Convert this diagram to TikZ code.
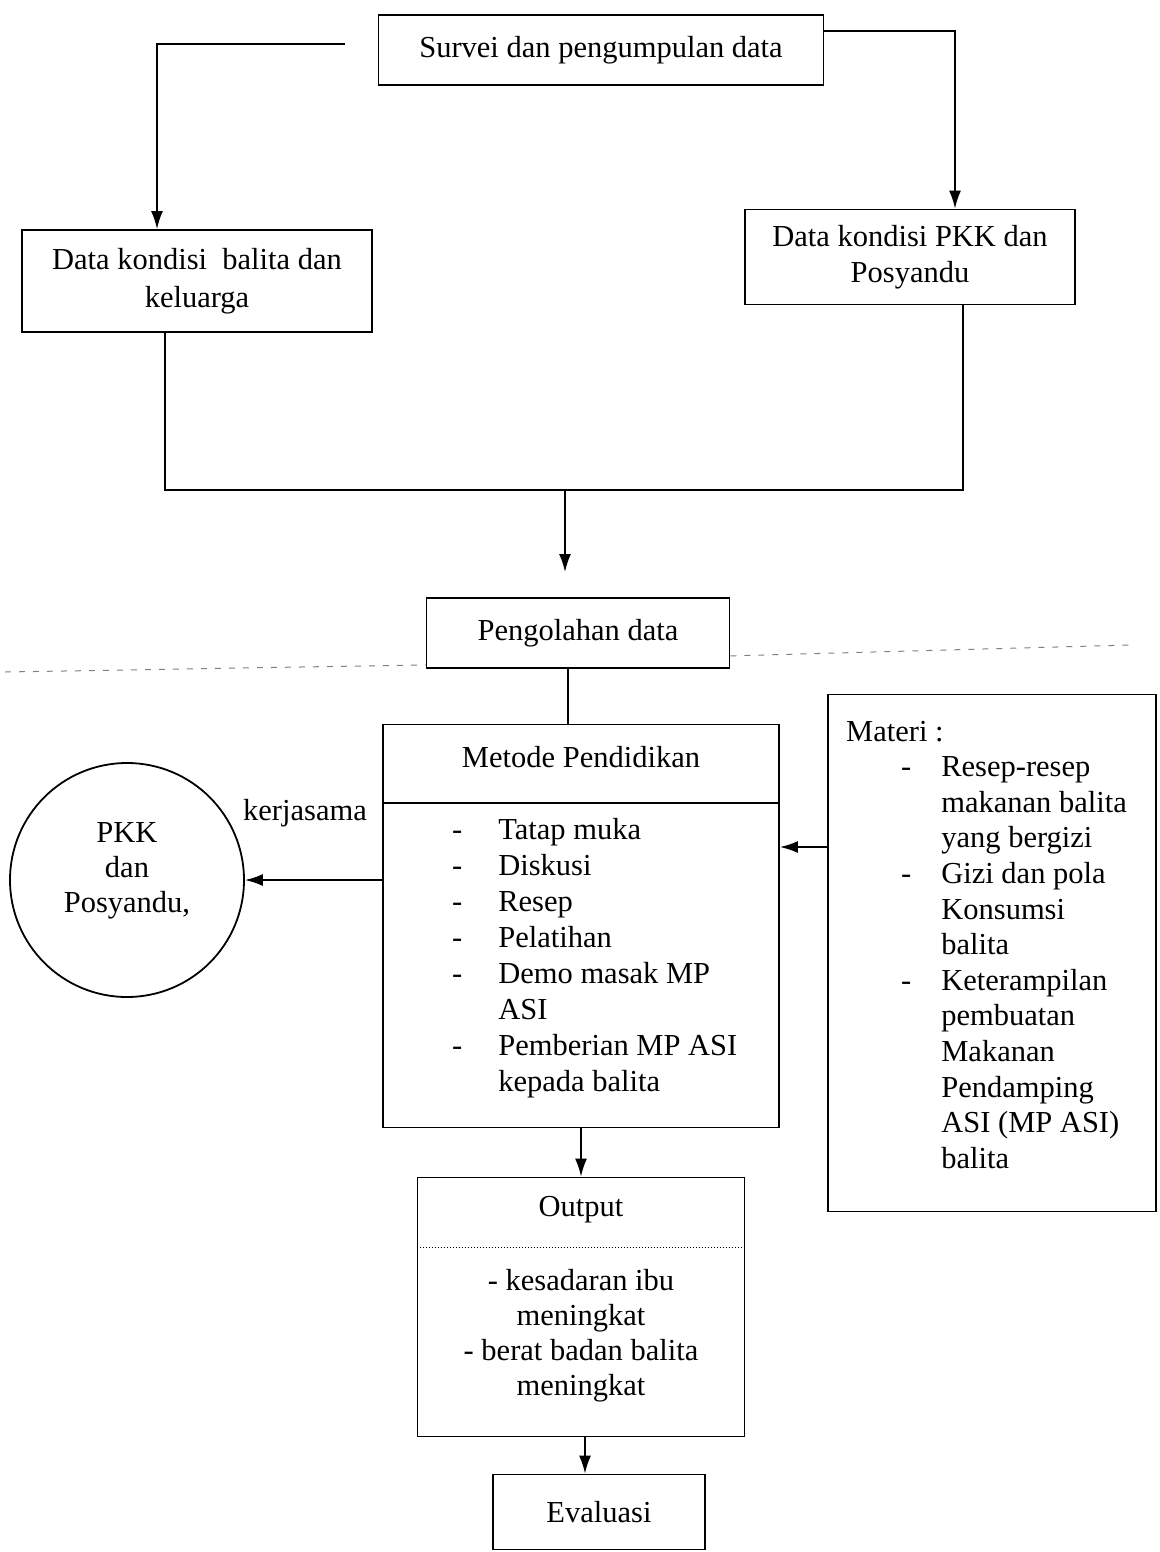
\documentclass[tikz,border=0pt]{standalone}
\usepackage{fontspec}
\setmainfont{Liberation Serif}
\usetikzlibrary{arrows.meta}
\begin{document}
\begin{tikzpicture}[x=1pt,y=-1pt,
  box/.style={draw, line width=1.8pt, align=center, inner sep=0pt, font=\fontsize{30.5}{36}\selectfont},
  txt/.style={inner sep=0pt, font=\fontsize{30.5}{36}\selectfont},
  arr/.style={line width=1.8pt, -{Latex[length=18pt,width=12pt]}},
  ln/.style={line width=1.8pt},
  sep/.style={gray, dash pattern=on 6pt off 8pt, line width=1pt}]
\useasboundingbox (0,0) rectangle (1159,1552);

% top part
\node[box, minimum width=445pt, minimum height=70pt] (survei) at (601,50) {Survei dan pengumpulan data};
\node[box, minimum width=350pt, minimum height=102pt, font=\fontsize{30.5}{38}\selectfont] (balita) at (197,281) {Data kondisi\ \ balita dan\\keluarga};
\node[box, minimum width=330pt, minimum height=95pt] (pkkdata) at (910,257) {Data kondisi PKK dan\\Posyandu};

\coordinate (sL) at (345,44);
\draw[arr] (sL) -| ([xshift=-40pt]balita.north);
\draw[arr] ([yshift=19pt]survei.east) -| ([xshift=45pt]pkkdata.north);

\coordinate (jM) at (565,490);
\draw[ln] ([xshift=-32pt]balita.south) |- (jM) -| ([xshift=53pt]pkkdata.south);

\node[box, minimum width=303pt, minimum height=70pt] (peng) at (578,633) {Pengolahan data};
\coordinate (pengIn) at (565,572);
\draw[arr] (jM) -- (pengIn);

\coordinate (dL) at (5,672);
\coordinate (dR) at (1130,645);
\draw[sep] (dL) -- ([yshift=4pt]peng.south west);
\draw[sep] ([yshift=13pt]peng.south east) -- (dR);

% Metode
\node[box, minimum width=396pt, minimum height=403pt] (metode) at (581,926) {};
\node[txt] (metodeH) at (581,757) {Metode Pendidikan};
\draw[ln] (metode.west |- 0,803) -- (metode.east |- 0,803);
\coordinate (pm) at ([xshift=-10pt]peng.south);
\draw[ln] (pm) -- (pm |- metode.north);
\node[txt, anchor=west] (metodeL) at (452,958) {\begin{tabular}{@{}l@{\hspace{36pt}}l@{}}
- & Tatap muka\\
- & Diskusi\\
- & Resep\\
- & Pelatihan\\
- & Demo masak MP\\
  & ASI\\
- & Pemberian MP ASI\\
  & kepada balita
\end{tabular}};

% PKK circle
\node[draw, circle, line width=1.8pt, minimum size=234pt, inner sep=0pt] (pkk) at (127,880) {};
\node[txt, align=center, font=\fontsize{30.5}{35}\selectfont] (pkkT) at (127,871) {PKK\\dan\\Posyandu,};
\draw[arr] (metode.west |- pkk.east) -- (pkk.east);
\node[txt] (kerja) at (305,813) {kerjasama};

% Materi
\node[box, minimum width=328pt, minimum height=517pt] (materi) at (992,953) {};
\node[txt, anchor=north west, font=\fontsize{30.5}{35.6}\selectfont] (materiT) at (846,716) {\begin{tabular}{@{}l@{\hspace{30pt}}l@{}}
\multicolumn{2}{@{}l@{}}{Materi :}\\
\hspace{55pt}- & Resep-resep\\
 & makanan balita\\
 & yang bergizi\\
\hspace{55pt}- & Gizi dan pola\\
 & Konsumsi\\
 & balita\\
\hspace{55pt}- & Keterampilan\\
 & pembuatan\\
 & Makanan\\
 & Pendamping\\
 & ASI (MP ASI)\\
 & balita
\end{tabular}};
\coordinate (ma) at (materi.west |- 0,847);
\draw[arr] (ma) -- (metode.east |- ma);

% Output
\node[box, minimum width=327pt, minimum height=259pt] (output) at (581,1307) {};
\node[txt] (outH) at (581,1210) {Output};
\draw[dotted, line width=1pt] (output.west |- 0,1247) -- (output.east |- 0,1247);
\node[txt, align=center, font=\fontsize{30.5}{35}\selectfont] (outT) at (581,1336) {- kesadaran ibu\\meningkat\\- berat badan balita\\meningkat};
\draw[arr] (metode.south) -- (output.north);

% Evaluasi
\node[box, minimum width=212pt, minimum height=75pt] (eval) at (599,1512) {Evaluasi};
\coordinate (oe) at ([xshift=4pt]output.south);
\draw[arr] (oe) -- (oe |- eval.north);
\end{tikzpicture}
\end{document}
